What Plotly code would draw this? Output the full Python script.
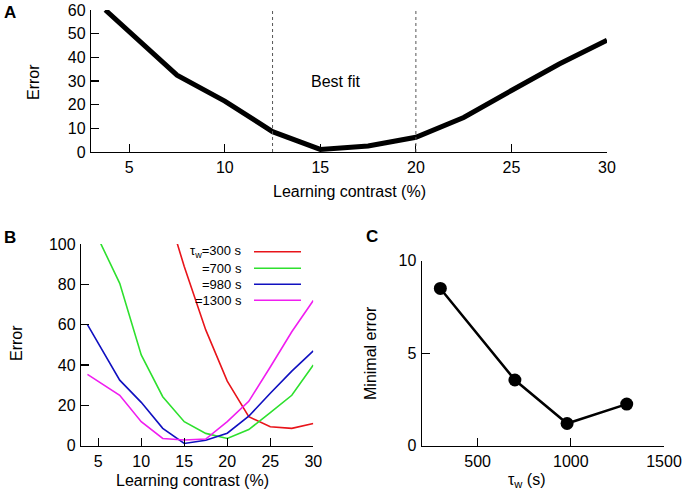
import plotly.graph_objects as go

W, H = 686, 498
FONT = "Liberation Sans, Arial, Helvetica, sans-serif"

# ---------------- data ----------------
contrast = [3.75, 7.5, 10, 12.5, 15, 17.5, 20, 22.5, 25, 27.5, 30]
error_best = [60, 32.5, 21.5, 8.6, 1.1, 2.5, 6.2, 14.6, 26, 37.2, 47.2]

err_300 = [None, None, None, 124, 88.8, 57.4, 32, 14.4, 9.4, 8.6, 11]
err_700 = [114, 80.5, 45, 24.3, 11.9, 6.1, 3.6, 8, 16.4, 25, 40]
err_980 = [60, 32.5, 21.5, 8.6, 1.1, 2.7, 6.2, 14.6, 26, 37, 47]
err_1300 = [35.4, 25, 11.9, 3.6, 2.8, 3.3, 11.9, 22, 39, 56.5, 72]

series_names = ["τ<sub>w</sub>=300 s", "=700 s", "=980 s", "=1300 s"]
series_colors = ["#e8141a", "#2ee02e", "#1010c0", "#f01ef0"]

tau_w = [300, 700, 980, 1300]
min_error = [8.5, 3.55, 1.2, 2.25]

best_fit_bounds = [12.5, 20]
contrast_ticks = [5, 10, 15, 20, 25, 30]


def px(x):
    return x / W


def py(y):
    return 1 - y / H


fig = go.Figure()

# Panel A
fig.add_trace(go.Scatter(x=contrast, y=error_best, mode="lines",
                         line=dict(color="black", width=5),
                         xaxis="x", yaxis="y", showlegend=False))

# Panel B
for vals, name, col in zip([err_300, err_700, err_980, err_1300], series_names, series_colors):
    fig.add_trace(go.Scatter(x=contrast, y=vals, mode="lines", name=name,
                             line=dict(color=col, width=1.6),
                             xaxis="x2", yaxis="y2", showlegend=False))

# Panel C
fig.add_trace(go.Scatter(x=tau_w, y=min_error, mode="lines+markers",
                         line=dict(color="black", width=2.5),
                         marker=dict(color="black", size=13),
                         cliponaxis=False,
                         xaxis="x3", yaxis="y3", showlegend=False))

TF = 16
axis_common = dict(showline=True, linecolor="black", linewidth=1.2,
                   ticks="inside", ticklen=8, tickwidth=1.2, tickcolor="black",
                   showgrid=False, zeroline=False, automargin=False,
                   ticklabeloverflow="allow",
                   tickfont=dict(family=FONT, size=TF, color="black"),
                   fixedrange=True)

fig.update_layout(
    width=W, height=H, autosize=False,
    margin=dict(l=0, r=0, t=0, b=0, pad=0),
    paper_bgcolor="white", plot_bgcolor="white",
    font=dict(family=FONT, size=TF, color="black"),
    xaxis=dict(axis_common, domain=[px(91), px(607)], range=[3, 30],
               tickvals=contrast_ticks, anchor="y", ticklabelstandoff=1),
    yaxis=dict(axis_common, domain=[py(152), py(10)], range=[0, 60],
               tickvals=[0, 10, 20, 30, 40, 50, 60], anchor="x", ticklabelstandoff=1),
    xaxis2=dict(axis_common, domain=[px(81), px(313.3)], range=[3, 30],
                tickvals=contrast_ticks, anchor="y2", ticklabelstandoff=1),
    yaxis2=dict(axis_common, domain=[py(445.7), py(244)], range=[0, 100],
                tickvals=[0, 20, 40, 60, 80, 100], anchor="x2", ticklabelstandoff=1),
    xaxis3=dict(axis_common, domain=[px(421.7), px(664)], range=[200, 1500],
                tickvals=[500, 1000, 1500], anchor="y3", ticklabelstandoff=1),
    yaxis3=dict(axis_common, domain=[py(445.7), py(260.7)], range=[0, 10],
                tickvals=[0, 5, 10], anchor="x3", ticklabelstandoff=1),
)

# best-fit dashed lines
for xb in best_fit_bounds:
    fig.add_shape(type="line", xref="x", yref="y domain", x0=xb, x1=xb, y0=0, y1=1,
                  line=dict(color="#555555", width=1, dash="3px,3px"))

annotations = []


def ann(text, x, y, size=TF, bold=False, angle=0, xanchor="center", xref="paper", yref="paper"):
    annotations.append(dict(text=f"<b>{text}</b>" if bold else text,
                            x=x, y=y, xref=xref, yref=yref, showarrow=False,
                            xanchor=xanchor, yanchor="middle", textangle=angle,
                            font=dict(family=FONT, size=size, color="black")))


ann("Best fit", 15.8, 30, xref="x", yref="y", size=16)

# panel letters
ann("A", px(10), py(13), size=17, bold=True)
ann("B", px(10), py(238), size=17, bold=True)
ann("C", px(372), py(236), size=17, bold=True)

# axis titles
ann("Error", px(33), py(82), angle=-90, size=16)
ann("Learning contrast (%)", px(349), py(191), size=16)
ann("Error", px(16), py(343), angle=-90, size=16)
ann("Learning contrast (%)", px(192), py(480), size=16)
ann("Minimal error", px(370), py(353), angle=-90, size=16)
ann("τ<sub>w</sub> (s)", px(527), py(480), size=16)

# legend for panel B (text then line sample)
legend_rows = [251.7, 268.3, 284.3, 300.3]
for name, col, ry in zip(series_names, series_colors, legend_rows):
    ann(name, px(244), py(ry), size=13, xanchor="right")
    fig.add_shape(type="line", xref="paper", yref="paper",
                  x0=px(254), x1=px(301), y0=py(ry), y1=py(ry),
                  line=dict(color=col, width=1.6))

fig.update_layout(annotations=annotations)

# remove the default 8px page margin so the 686x498 figure fills the window exactly
fig.write_html("out.html",
               config={"displayModeBar": False, "staticPlot": True},
               post_script="document.body.style.margin='0';document.body.style.overflow='hidden';")
